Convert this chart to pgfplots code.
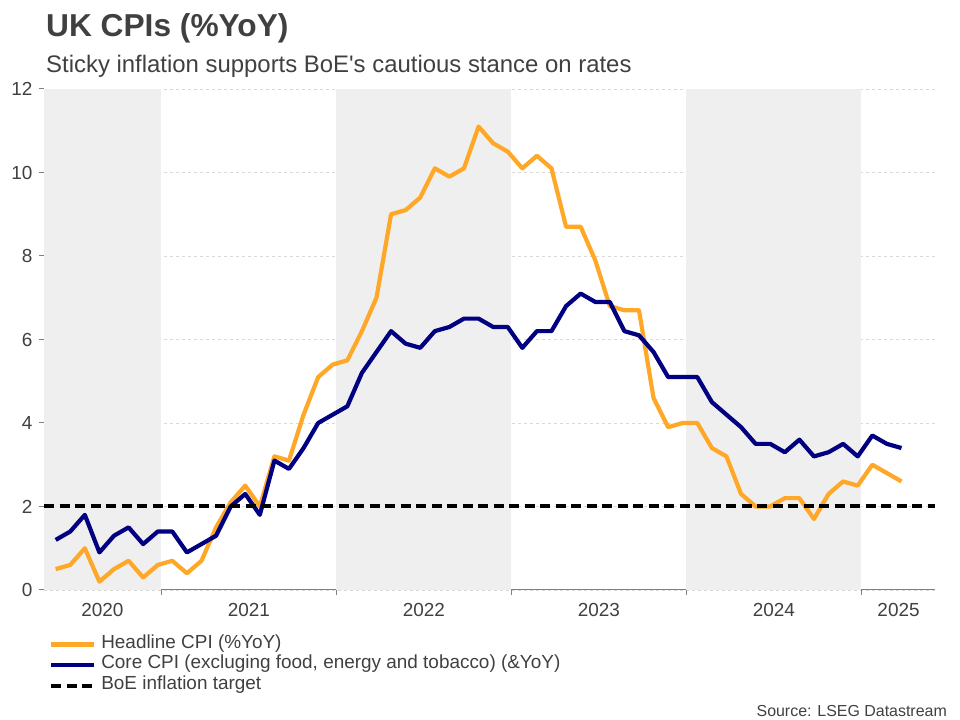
\documentclass[border=0pt]{standalone}
\usepackage{pgfplots}
\usepackage{pgfplotstable}
\pgfplotsset{compat=1.18}
\usepackage{fontspec}
\setmainfont{Liberation Sans}

\definecolor{cpiorange}{RGB}{255,167,38}
\definecolor{corenavy}{RGB}{0,0,128}
\definecolor{band}{RGB}{239,239,239}
\definecolor{txt}{RGB}{64,64,64}
\definecolor{axisgray}{RGB}{128,128,128}

% month index: Jan 2020 = 0
\pgfplotstableread{
m  cpi  core
4  0.5  1.2
5  0.6  1.4
6  1.0  1.8
7  0.2  0.9
8  0.5  1.3
9  0.7  1.5
10 0.3  1.1
11 0.6  1.4
12 0.7  1.4
13 0.4  0.9
14 0.7  1.1
15 1.5  1.3
16 2.1  2.0
17 2.5  2.3
18 2.0  1.8
19 3.2  3.1
20 3.1  2.9
21 4.2  3.4
22 5.1  4.0
23 5.4  4.2
24 5.5  4.4
25 6.2  5.2
26 7.0  5.7
27 9.0  6.2
28 9.1  5.9
29 9.4  5.8
30 10.1 6.2
31 9.9  6.3
32 10.1 6.5
33 11.1 6.5
34 10.7 6.3
35 10.5 6.3
36 10.1 5.8
37 10.4 6.2
38 10.1 6.2
39 8.7  6.8
40 8.7  7.1
41 7.9  6.9
42 6.8  6.9
43 6.7  6.2
44 6.7  6.1
45 4.6  5.7
46 3.9  5.1
47 4.0  5.1
48 4.0  5.1
49 3.4  4.5
50 3.2  4.2
51 2.3  3.9
52 2.0  3.5
53 2.0  3.5
54 2.2  3.3
55 2.2  3.6
56 1.7  3.2
57 2.3  3.3
58 2.6  3.5
59 2.5  3.2
60 3.0  3.7
61 2.8  3.5
62 2.6  3.4
}\cpidata

\begin{document}
\begin{tikzpicture}
\path[use as bounding box] (0bp,0bp) rectangle (960bp,720bp);
\node[anchor=base west, inner sep=0, text=txt, font=\fontsize{31.8}{36}\selectfont\bfseries] at (46bp,683bp) {UK CPIs (\%YoY)};
\node[anchor=base west, inner sep=0, text=txt, font=\fontsize{24}{28}\selectfont] at (46bp,647bp) {Sticky inflation supports BoE\textquotesingle s cautious stance on rates};
\node[anchor=base east, inner sep=0, text=txt, font=\fontsize{16}{19}\selectfont] at (947bp,4bp) {Source: LSEG Datastream};
\begin{axis}[
  at={(44bp,130bp)}, anchor=south west,
  scale only axis, width=891bp, height=501bp,
  xmin=3.6, xmax=64.7, ymin=0, ymax=12,
  axis x line*=bottom, axis y line*=left,
  axis line style={axisgray, line width=1bp},
  tick align=outside, major tick length=5bp,
  tick style={axisgray, line width=1bp},
  xtick={11.65,23.65,35.65,47.65,59.65},
  xticklabels={},
  extra x ticks={7.6,17.65,29.65,41.65,53.65,62.2},
  extra x tick labels={2020,2021,2022,2023,2024,2025},
  extra x tick style={major tick length=0pt},
  ytick={0,2,...,12},
  ymajorgrids,
  grid style={dash pattern=on 3bp off 3bp, color=black!15, line width=0.7bp},
  ticklabel style={font=\fontsize{19}{22}\selectfont, text=txt},
  xticklabel style={yshift=-10bp},
  yticklabel style={xshift=-3bp},
  /pgf/number format/assume math mode=true,
  legend style={draw=none, fill=none, at={(0.0055,-0.088)}, anchor=north west,
    font=\fontsize{19}{22}\selectfont, text=txt, inner sep=0pt,
    row sep=0pt, column sep=5bp,
    nodes={inner sep=0pt, text height=14bp, text depth=6.5bp}},
  legend cell align=left,
  legend image code/.code={\draw[#1] (0bp,0bp) -- (43bp,0bp);},
]
\addplot[draw=none, fill=band, forget plot]
  coordinates {(3.6,12) (11.65,12)} \closedcycle;
\addplot[draw=none, fill=band, forget plot]
  coordinates {(23.65,12) (35.65,12)} \closedcycle;
\addplot[draw=none, fill=band, forget plot]
  coordinates {(47.65,12) (59.65,12)} \closedcycle;
\addplot[cpiorange, line width=4.2bp, line join=round, no marks]
  table[x expr=\thisrow{m}+0.4, y=cpi] {\cpidata};
\addplot[corenavy, line width=4.2bp, line join=round, no marks]
  table[x expr=\thisrow{m}+0.4, y=core] {\cpidata};
\addplot[black, line width=4bp, dash pattern=on 10bp off 5.5bp, no marks]
  coordinates {(3.6,2) (64.7,2)};
\legend{Headline CPI (\%YoY), {Core CPI (excluging food, energy and tobacco) (\&YoY)}, BoE inflation target}
\end{axis}
\end{tikzpicture}
\end{document}
